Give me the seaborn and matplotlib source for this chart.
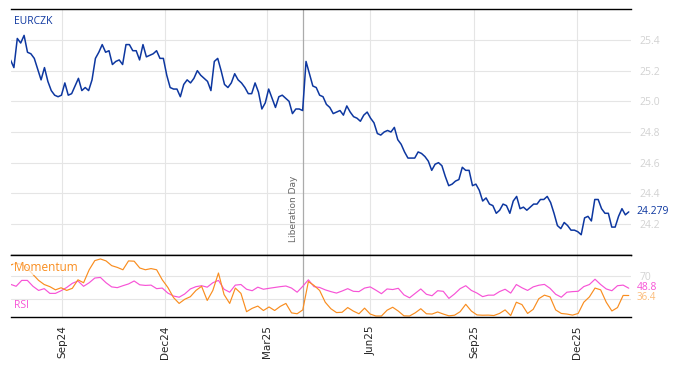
import numpy as np
import pandas as pd
import seaborn as sns
import matplotlib
matplotlib.use("Agg")
from matplotlib import pyplot as plt
import matplotlib.dates as mdates

# EURCZK close, sampled every ~3 days from 2024-07-17 to 2026-01-16
eurczk = [
    25.27, 25.22, 25.41, 25.38, 25.43, 25.32, 25.31, 25.28, 25.21, 25.14,
    25.22, 25.13, 25.07, 25.04, 25.03, 25.04, 25.12, 25.04, 25.05, 25.10,
    25.15, 25.07, 25.09, 25.07, 25.14, 25.28, 25.32, 25.37, 25.32, 25.33,
    25.24, 25.26, 25.27, 25.24, 25.37, 25.37, 25.33, 25.33, 25.27, 25.37,
    25.29, 25.30, 25.31, 25.33, 25.28, 25.28, 25.17, 25.09, 25.08, 25.08,
    25.03, 25.11, 25.14, 25.12, 25.15, 25.20, 25.17, 25.15, 25.13, 25.07,
    25.26, 25.28, 25.20, 25.11, 25.09, 25.12, 25.18, 25.14, 25.12, 25.09,
    25.05, 25.05, 25.12, 25.06, 24.95, 24.99, 25.08, 25.02, 24.96, 25.03,
    25.04, 25.02, 25.00, 24.92, 24.95, 24.95, 24.94, 25.26, 25.18, 25.10,
    25.09, 25.04, 25.03, 24.98, 24.96, 24.92, 24.93, 24.94, 24.91, 24.97,
    24.93, 24.90, 24.89, 24.87, 24.91, 24.93, 24.89, 24.86, 24.79, 24.78,
    24.80, 24.81, 24.80, 24.83, 24.75, 24.72, 24.67, 24.63, 24.63, 24.63,
    24.67, 24.66, 24.64, 24.61, 24.55, 24.59, 24.60, 24.58, 24.51, 24.45,
    24.46, 24.48, 24.49, 24.57, 24.55, 24.55, 24.45, 24.46, 24.42, 24.35,
    24.37, 24.33, 24.32, 24.27, 24.29, 24.33, 24.32, 24.27, 24.35, 24.38,
    24.30, 24.31, 24.29, 24.31, 24.33, 24.33, 24.36, 24.36, 24.38, 24.34,
    24.27, 24.19, 24.17, 24.21, 24.19, 24.16, 24.16, 24.15, 24.13, 24.24,
    24.25, 24.22, 24.36, 24.36, 24.30, 24.27, 24.27, 24.18, 24.18, 24.25,
    24.30, 24.26, 24.279,
]

# indicators, sampled every ~5 days over the same span
rsi = [
    55.4, 52, 62, 62, 52, 45, 48, 40, 40, 44.5,
    50, 57, 61, 52, 58, 66, 67, 58, 51, 49.7,
    53, 56, 61, 54.5, 53.5, 54, 48, 49, 40.5, 35.5,
    33.5, 39, 47.5, 51.4, 53, 50.5, 58, 62, 47, 42,
    54, 55, 47, 44.5, 50.5, 47, 48.6, 50, 51.4, 52.5,
    49, 42, 52, 63, 51.4, 50, 46, 43, 40.5, 44,
    48, 43.5, 43, 49, 51, 45.5, 39.5, 47.5, 46.5, 48.6,
    37.5, 32.5, 40, 47.5, 38.5, 36, 44.5, 43.5, 31.5, 39,
    48, 53, 45, 40.5, 34.5, 37, 37, 43, 47, 40.5,
    55, 49.5, 45, 51, 53.8, 55.2, 48.5, 38.5, 33.5, 42,
    43, 43.5, 51.5, 55, 64, 55, 47.5, 44.5, 53, 54,
    48.8,
]
momentum = [
    88, 91, 89, 83, 72, 62, 55, 51.4, 46, 49.5,
    45, 48.6, 63, 58, 80, 95.5, 98.3, 95, 87, 84,
    80, 95, 94.5, 83, 80, 82, 80, 63, 50, 33,
    23, 30, 34.4, 45, 52, 28, 45, 74.5, 38, 23,
    49, 40, 9, 14.7, 18.5, 11, 17, 11, 18, 23,
    7, 5.5, 12, 60, 53.5, 45, 25, 14, 7.5, 8,
    16, 10, 5.5, 15, 5, 1.7, 1.7, 11.5, 16.5, 10,
    2, 1.7, 7, 14, 5.5, 5, 8.5, 5, 2, 3,
    9, 21.5, 10, 3.5, 3, 3.2, 2.5, 6, 12, 2.5,
    25, 21, 6, 13, 31, 37, 34, 12, 6, 5,
    3.2, 6, 25, 34, 49, 46, 25, 10.2, 16, 36.5,
    36.4,
]

start, end = "2024-07-17", "2026-01-16"
event_date = pd.Timestamp("2025-04-02")
event_label = "Liberation Day"
price_ticks = [24.2, 24.4, 24.6, 24.8, 25.0, 25.2, 25.4]
ind_ticks = [30, 70]

blue = "#0d37a0"
orange = "#f98d1f"
pink = "#f753d6"
grey_txt = "#d2d2d2"

price_df = pd.DataFrame({"date": pd.date_range(start, end, periods=len(eurczk)), "price": eurczk})
ind_df = pd.DataFrame({"date": pd.date_range(start, end, periods=len(rsi)),
                       "rsi": rsi, "momentum": momentum})

sns.set_style("white")
plt.rcParams["font.family"] = ["DejaVu Sans"]
label_font = ["Open Sans", "DejaVu Sans"]

fig = plt.figure(figsize=(6.81, 3.66), dpi=100)
W, H = 681, 366
ax = fig.add_axes([10.5 / W, 1 - 255 / H, 620.5 / W, 246 / H])
ax2 = fig.add_axes([10.5 / W, 1 - 317 / H, 620.5 / W, 62 / H], sharex=ax)

sns.lineplot(data=price_df, x="date", y="price", ax=ax, color=blue, linewidth=1.1)
sns.lineplot(data=ind_df, x="date", y="rsi", ax=ax2, color=pink, linewidth=0.85)
sns.lineplot(data=ind_df, x="date", y="momentum", ax=ax2, color=orange, linewidth=0.85)

ax.set_xlim(pd.Timestamp("2024-07-17"), pd.Timestamp("2026-01-18"))
ax.set_ylim(23.998, 25.602)
ax2.set_ylim(0, 105)

for a in (ax, ax2):
    a.set_xlabel("")
    a.set_ylabel("")
    for s in ("left", "right"):
        a.spines[s].set_visible(False)
    for s in ("top", "bottom"):
        a.spines[s].set_color("black")
        a.spines[s].set_linewidth(1.0)
    a.grid(True, color="#e5e5e5", linewidth=0.8)
    a.set_axisbelow(True)
    a.yaxis.tick_right()
    a.tick_params(axis="y", length=0, pad=6, labelcolor=grey_txt, labelsize=7.5)
    a.tick_params(axis="x", direction="in", length=4, width=1, color="black")
    a.axvline(event_date, color="#ababab", linewidth=0.9, zorder=1)

ax.set_yticks(price_ticks)
ax.set_yticklabels([f"{t:.1f}" for t in price_ticks], family=label_font)
# the 30 label sits under the momentum value label, so only 70 is written
ax2.set_yticks(ind_ticks)
ax2.set_yticklabels(["", str(ind_ticks[1])], family=label_font)

ax.xaxis.set_major_locator(mdates.MonthLocator(bymonth=[3, 6, 9, 12]))
ax.xaxis.set_major_formatter(mdates.DateFormatter("%b%y"))
ax.tick_params(axis="x", labelbottom=False)
ax2.tick_params(axis="x", labelbottom=True, labelsize=7.5, rotation=90, pad=6)

ax.text(event_date - pd.Timedelta(days=4), 24.08, event_label, rotation=90,
        ha="right", va="bottom", fontsize=6.5, color="#666666")

ax.text(0.005, 0.95, "EURCZK", transform=ax.transAxes, color=blue, fontsize=7.5,
        ha="left", va="center", family=label_font)
ax2.text(0.005, 0.8, "Momentum", transform=ax2.transAxes, color=orange, fontsize=8.5,
         ha="left", va="center", family=label_font,
         bbox=dict(facecolor="white", edgecolor="none", alpha=0.7, pad=0.5))
ax2.text(0.005, 0.18, "RSI", transform=ax2.transAxes, color=pink, fontsize=7.5,
         ha="left", va="center", family=label_font)

# last-value labels on the right
ax.text(1.009, eurczk[-1], f"{eurczk[-1]:.3f}", transform=ax.get_yaxis_transform(),
        color=blue, fontsize=7.5, va="center", family=label_font)
ax2.text(1.009, rsi[-1] + 2, f"{rsi[-1]:.1f}", transform=ax2.get_yaxis_transform(),
         color=pink, fontsize=7.5, va="center", family=label_font)
ax2.text(1.009, momentum[-1] - 3, f"{momentum[-1]:.1f}", transform=ax2.get_yaxis_transform(),
         color=orange, alpha=0.6, fontsize=7, va="center", family=label_font)

fig.savefig("out.png", dpi=100)
